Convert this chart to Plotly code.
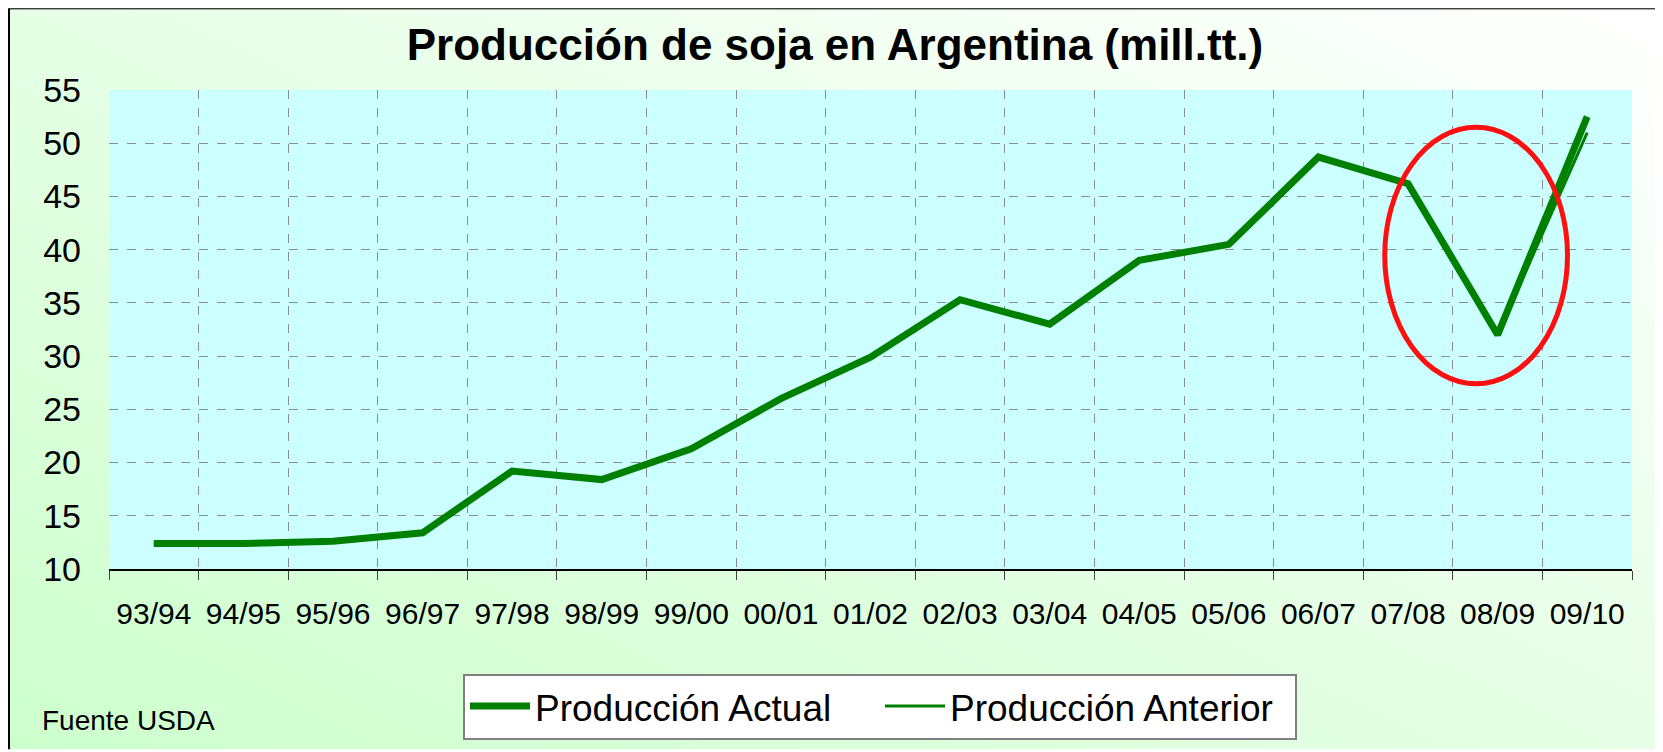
import base64
import plotly.graph_objects as go

# campañas y producción (mill. tt.)
campanas = ["93/94", "94/95", "95/96", "96/97", "97/98", "98/99", "99/00", "00/01",
            "01/02", "02/03", "03/04", "04/05", "05/06", "06/07", "07/08", "08/09", "09/10"]
prod_actual = [12.4, 12.4, 12.6, 13.4, 19.2, 18.4, 21.3, 26.0,
               29.9, 35.3, 33.0, 39.0, 40.5, 48.7, 46.2, 32.0, 52.5]
prod_anterior = [12.4, 12.4, 12.6, 13.4, 19.2, 18.4, 21.3, 26.0,
                 29.9, 35.3, 33.0, 39.0, 40.5, 48.7, 46.2, 32.0, 51.0]

# la página tiene 8px de margen, la figura ocupa el resto
W, H = 1651, 744
L, R, T, B = 101, 27, 82, 181
pw, ph = W - L - R, H - T - B


def px(x):
    return (x - L) / pw


def py(y):
    return (T + ph - y) / ph


# fondo con degradado (imagen svg embebida)
svg = f'''<svg xmlns="http://www.w3.org/2000/svg" width="{W}" height="{H}">
<defs><linearGradient id="g" x1="0" y1="1" x2="1" y2="0">
<stop offset="0" stop-color="#ccffcc"/><stop offset="1" stop-color="#ffffff"/>
</linearGradient></defs>
<rect x="1" y="0" width="{W - 2}" height="{H + 20}" fill="url(#g)" stroke="#000000" stroke-width="2"/>
</svg>'''
src = "data:image/svg+xml;base64," + base64.b64encode(svg.encode()).decode()

fig = go.Figure()
fig.add_trace(go.Scatter(x=campanas, y=prod_anterior, mode="lines", name="Producción Anterior",
                         line=dict(color="#008000", width=3)))
fig.add_trace(go.Scatter(x=campanas, y=prod_actual, mode="lines", name="Producción Actual",
                         line=dict(color="#008000", width=7)))

fig.add_layout_image(dict(source=src, xref="paper", yref="paper",
                          x=px(0), y=py(0), sizex=W / pw, sizey=H / ph,
                          xanchor="left", yanchor="top", sizing="stretch", layer="below"))
# fondo del área de trazado
fig.add_shape(type="rect", xref="x domain", yref="y domain", x0=0, x1=1, y0=0, y1=1,
              fillcolor="#ccffff", line=dict(width=0), layer="below")
# elipse roja
fig.add_shape(type="circle", xref="x", yref="y", x0=13.74, x1=15.78, y0=27.4, y1=51.5,
              line=dict(color="#ff1010", width=5))

fig.add_annotation(text="Fuente USDA", xref="paper", yref="paper",
                   x=px(32), y=py(715), xanchor="left", yanchor="middle", showarrow=False,
                   font=dict(size=28, color="black"))

fig.update_layout(
    width=W, height=H,
    margin=dict(l=L, r=R, t=T, b=B),
    paper_bgcolor="white",
    plot_bgcolor="rgba(0,0,0,0)",
    font=dict(family="Arial, Liberation Sans", color="black"),
    title=dict(text="<b>Producción de soja en Argentina (mill.tt.)</b>",
               x=px(827), xref="paper", xanchor="center",
               y=1 - 37 / H, yanchor="middle", font=dict(size=44)),
    showlegend=True,
    legend=dict(orientation="h", x=px(872), xanchor="center",
                y=py(668), yanchor="top",
                bgcolor="white", bordercolor="#808080", borderwidth=2,
                font=dict(size=37), traceorder="reversed", itemwidth=60,
                entrywidth=340),
)
fig.update_xaxes(type="category", range=[-0.5, 16.5], tickson="boundaries",
                 showgrid=True, gridcolor="#8c8c8c", griddash="dash", gridwidth=1,
                 showline=True, linecolor="black", linewidth=1.5,
                 ticks="outside", ticklen=9, tickcolor="#404040",
                 tickfont=dict(size=30), ticklabelstandoff=17)
fig.update_yaxes(range=[10, 55], dtick=5, showgrid=True, gridcolor="#8c8c8c",
                 griddash="dash", gridwidth=1, zeroline=False, showline=False,
                 tickfont=dict(size=34), ticklabelstandoff=27)

fig.write_html("out.html")
